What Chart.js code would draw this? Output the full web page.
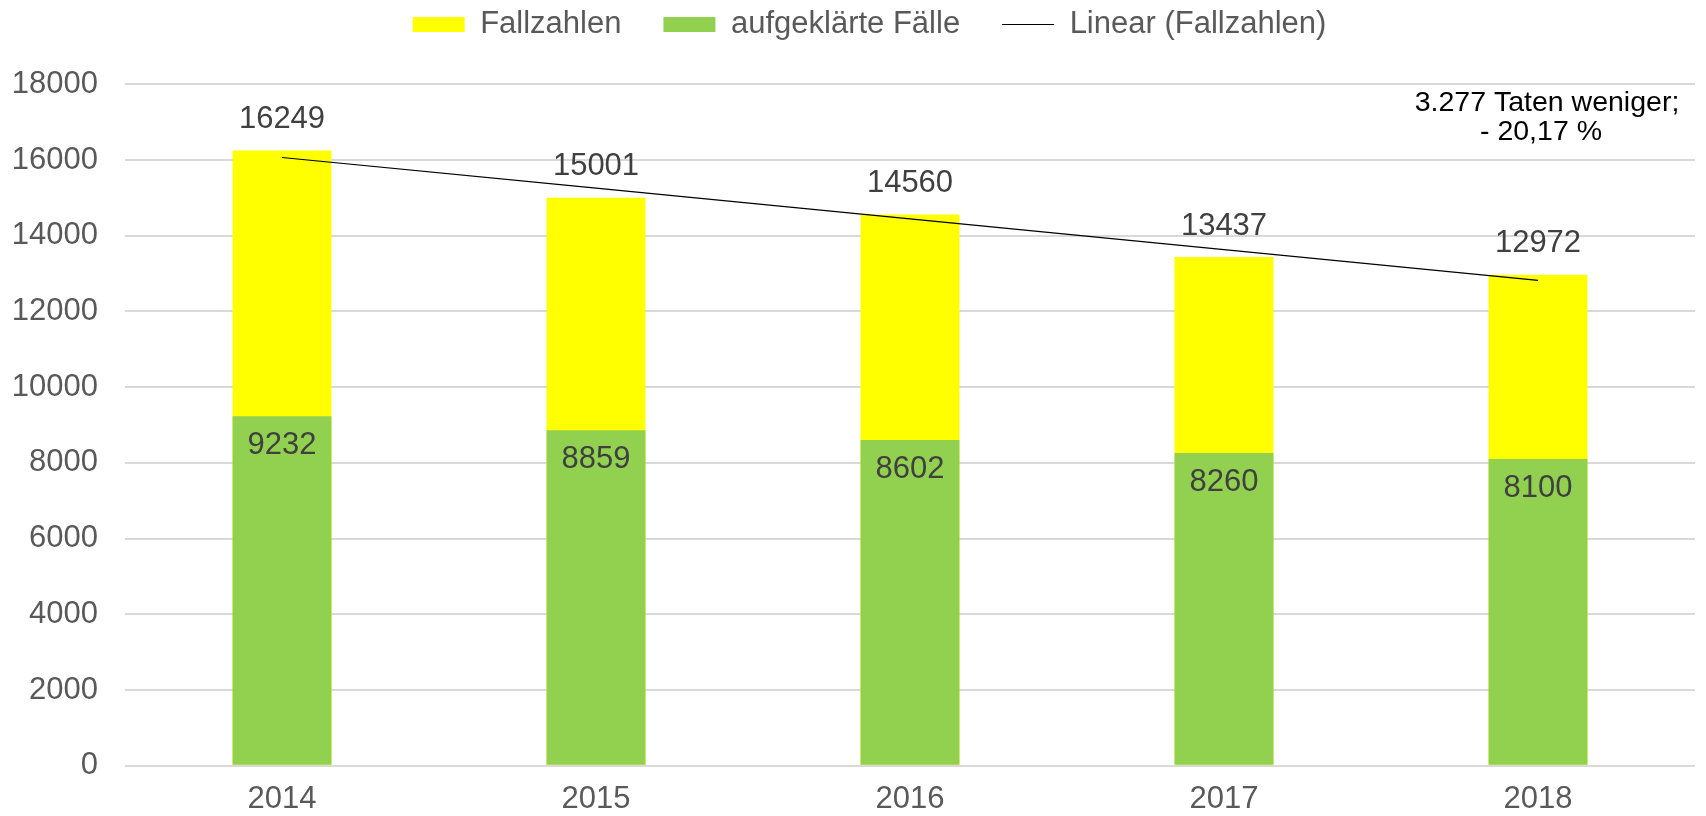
<!DOCTYPE html>
<html>
<head>
<meta charset="utf-8">
<script src="https://cdn.jsdelivr.net/npm/chart.js@4/dist/chart.umd.min.js"></script>
<style>
html,body{margin:0;padding:0;background:#fff;overflow:hidden;}
canvas{display:block;}
</style>
</head>
<body>
<canvas id="c" width="1706" height="816"></canvas>
<script>
const categories = ['2014', '2015', '2016', '2017', '2018'];
const fallzahlen = [16249, 15001, 14560, 13437, 12972];
const aufgeklaert = [9232, 8859, 8602, 8260, 8100];
const trend = [16067, 15255, 14444, 13632, 12820];
const yTicks = [0, 2000, 4000, 6000, 8000, 10000, 12000, 14000, 16000, 18000];
const noteLines = ['3.277 Taten weniger;', '- 20,17 %'];

const FONT = "'Liberation Sans', Arial, sans-serif";

const legendHeight = {
  id: 'legendHeight',
  beforeInit(chart) {
    const orig = chart.legend.fit;
    chart.legend.fit = function () { orig.call(this); this.height = 84.3; };
  },
  afterLayout(chart) {
    const lg = chart.legend;
    lg.left += 22;
    lg.right += 22;
    // labels.padding (42) also offsets rows vertically; pull the row up
    lg.top = -33;
  }
};

const valueLabels = {
  id: 'valueLabels',
  afterDatasetsDraw(chart) {
    const ctx = chart.ctx;
    ctx.save();
    ctx.font = '31px ' + FONT;
    ctx.fillStyle = '#404040';
    ctx.textAlign = 'center';
    ctx.textBaseline = 'middle';
    chart.getDatasetMeta(0).data.forEach((bar, i) => {
      ctx.fillText(String(fallzahlen[i]), bar.x, bar.y - 31);
    });
    chart.getDatasetMeta(1).data.forEach((bar, i) => {
      ctx.fillText(String(aufgeklaert[i]), bar.x, bar.y + 29);
    });
    // annotation
    const xs = chart.scales.x, ys = chart.scales.y;
    const cx = xs.getPixelForValue(4) + 9;
    ctx.font = '28.5px ' + FONT;
    ctx.fillStyle = '#000000';
    ctx.fillText(noteLines[0], cx, ys.getPixelForValue(17500));
    ctx.fillText(noteLines[1], cx - 6, ys.getPixelForValue(16740));
    ctx.restore();
  }
};

new Chart(document.getElementById('c'), {
  data: {
    labels: categories,
    datasets: [
      {
        type: 'bar',
        label: 'Fallzahlen',
        data: fallzahlen,
        backgroundColor: '#FFFF00',
        borderWidth: 0,
        grouped: false,
        order: 2,
        barPercentage: 0.315,
        categoryPercentage: 1
      },
      {
        type: 'bar',
        label: 'aufgeklärte Fälle',
        data: aufgeklaert,
        backgroundColor: '#92D050',
        borderWidth: 0,
        grouped: false,
        order: 1,
        barPercentage: 0.315,
        categoryPercentage: 1
      },
      {
        type: 'line',
        label: 'Linear (Fallzahlen)',
        data: trend,
        borderColor: '#000000',
        borderWidth: 1.2,
        pointRadius: 0,
        fill: false,
        tension: 0,
        order: 0
      }
    ]
  },
  options: {
    responsive: false,
    animation: false,
    devicePixelRatio: 1,
    layout: { padding: { left: 0, right: 11, top: 0, bottom: 0 } },
    plugins: {
      tooltip: { enabled: false },
      legend: {
        position: 'top',
        labels: {
          font: { family: FONT, size: 31 },
          color: '#595959',
          usePointStyle: true,
          pointStyleWidth: 52,
          boxHeight: 15,
          padding: 42,
          generateLabels(chart) {
            return [
              { text: 'Fallzahlen', fillStyle: '#FFFF00', strokeStyle: '#FFFF00', lineWidth: 0, pointStyle: 'rect', datasetIndex: 0, fontColor: '#595959' },
              { text: 'aufgeklärte Fälle', fillStyle: '#92D050', strokeStyle: '#92D050', lineWidth: 0, pointStyle: 'rect', datasetIndex: 1, fontColor: '#595959' },
              { text: 'Linear (Fallzahlen)', fillStyle: '#000000', strokeStyle: '#000000', lineWidth: 1.2, pointStyle: 'line', datasetIndex: 2, fontColor: '#595959' }
            ];
          }
        }
      }
    },
    scales: {
      x: {
        grid: { display: false, drawTicks: false },
        border: { display: false },
        ticks: { font: { family: FONT, size: 31, lineHeight: 1 }, color: '#595959', padding: 18, maxRotation: 0 },
        afterFit(scale) { scale.height = 50.3; }
      },
      y: {
        min: 0,
        max: 18000,
        afterBuildTicks(scale) { scale.ticks = yTicks.map(v => ({ value: v })); },
        grid: { color: '#d9d9d9', lineWidth: 2, drawTicks: false },
        border: { display: false },
        ticks: {
          font: { family: FONT, size: 31 },
          color: '#595959',
          padding: 27,
          callback: (v) => String(v)
        },
        afterFit(scale) { scale.width = 125; }
      }
    }
  },
  plugins: [legendHeight, valueLabels]
});
</script>
</body>
</html>
